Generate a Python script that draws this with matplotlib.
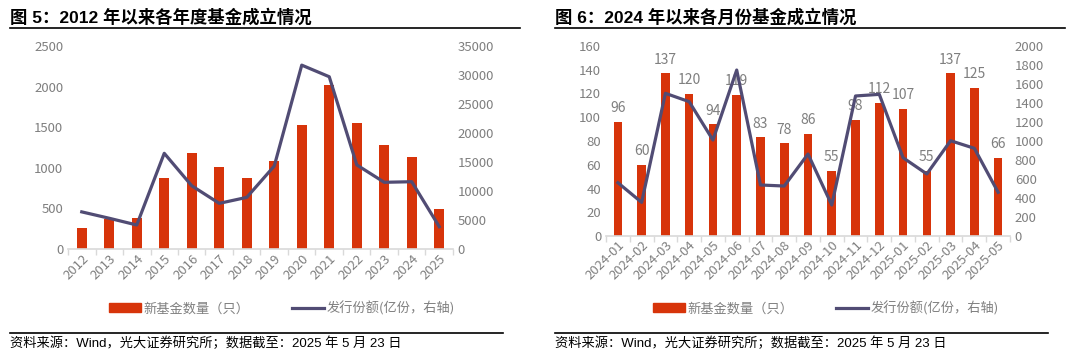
import numpy as np
import matplotlib
matplotlib.use('Agg')
import matplotlib.pyplot as plt
from matplotlib.lines import Line2D
from matplotlib.patches import Patch

plt.rcParams['font.family'] = ['Noto Sans CJK SC', 'DejaVu Sans']
HEAD_FONT = ['Liberation Sans', 'Noto Sans CJK SC']

# left panel: yearly
years = ['2012', '2013', '2014', '2015', '2016', '2017', '2018', '2019',
         '2020', '2021', '2022', '2023', '2024', '2025']
year_count = [263, 375, 386, 870, 1178, 1010, 870, 1084,
              1523, 2016, 1548, 1281, 1137, 488]
year_shares = [6400, 5300, 4140, 16500, 10900, 7870, 8900, 14300,
               31700, 29700, 14500, 11500, 11600, 3850]

# right panel: monthly
months = ['2024-01', '2024-02', '2024-03', '2024-04', '2024-05', '2024-06',
          '2024-07', '2024-08', '2024-09', '2024-10', '2024-11', '2024-12',
          '2025-01', '2025-02', '2025-03', '2025-04', '2025-05']
month_count = [96, 60, 137, 120, 94, 119, 83, 78, 86, 55, 98, 112,
               107, 55, 137, 125, 66]
month_shares = [561, 354, 1502, 1414, 1010, 1747, 537, 526, 863, 326,
                1474, 1491, 824, 653, 1003, 923, 460]

RED = '#D7340A'
LINE = '#514C74'
GREY = '#7F7F7F'
AXIS = '#D9D9D9'

fig = plt.figure(figsize=(10.8, 3.62), dpi=100)


def style_axes(ax, ax2, n):
    for a in (ax, ax2):
        for s in ('top', 'right', 'left'):
            a.spines[s].set_visible(False)
        a.tick_params(axis='y', length=0, colors=GREY, labelsize=9.5)
    ax2.spines['bottom'].set_visible(False)
    ax.spines['bottom'].set_color(AXIS)
    ax.spines['bottom'].set_linewidth(1.2)
    ax.set_xlim(-0.5, n - 0.5)
    # category ticks between bars (Excel style)
    ax.set_xticks(np.arange(-0.5, n, 1.0), minor=True)
    ax.tick_params(axis='x', which='minor', length=4, color=AXIS, width=1)
    ax.tick_params(axis='x', which='major', length=0, colors=GREY,
                   labelsize=9.5, pad=2)


def panel(rect, cats, counts, shares, ymax, ystep, y2max, y2step,
          title, title_x, line_x, labels=False, foot_x=None, foot_line=None):
    ax = fig.add_axes(rect)
    ax2 = ax.twinx()
    n = len(cats)
    x = np.arange(n)
    ax.bar(x, counts, width=0.36, color=RED, zorder=2)
    ax2.plot(x, shares, color=LINE, lw=2.3, zorder=3)
    ax.set_ylim(0, ymax)
    ax.set_yticks(np.arange(0, ymax + 1, ystep))
    ax2.set_ylim(0, y2max)
    ax2.set_yticks(np.arange(0, y2max + 1, y2step))
    style_axes(ax, ax2, n)
    ax.set_xticks(x)
    ax.set_xticklabels(cats, rotation=45, ha='right', rotation_mode='anchor')
    ax.set_zorder(ax2.get_zorder() - 1)
    ax.patch.set_visible(False)
    ax2.patch.set_visible(False)
    if labels:
        for xi, v in zip(x, counts):
            ax.text(xi, v + ymax * 0.035, str(v), ha='center', va='bottom',
                    color=GREY, fontsize=10)

    # title + rules
    fig.text(title_x, 1 - 17 / 362, title, fontsize=12.5, fontweight='bold',
             va='center', ha='left', color='black', family=HEAD_FONT)
    fig.add_artist(Line2D(line_x, [1 - 28 / 362] * 2, color='black', lw=1.2))
    fig.add_artist(Line2D(foot_line, [1 - 333 / 362] * 2, color='black', lw=1.2))
    fig.text(foot_x, 1 - 343 / 362,
             '资料来源：Wind，光大证券研究所；数据截至：2025 年 5 月 23 日',
             fontsize=9.5, va='center', ha='left', color='black',
             family=HEAD_FONT)
    return ax


ax_l = panel([68 / 1080, 1 - 249 / 362, 385 / 1080, 203 / 362],
             years, year_count, year_shares, 2500, 500, 35000, 5000,
             '图 5：2012 年以来各年度基金成立情况', 10 / 1080,
             [10 / 1080, 520 / 1080], foot_x=10 / 1080,
             foot_line=[10 / 1080, 503 / 1080])
ax_r = panel([606 / 1080, 1 - 236 / 362, 404 / 1080, 190 / 362],
             months, month_count, month_shares, 160, 20, 2000, 200,
             '图 6：2024 年以来各月份基金成立情况', 555 / 1080,
             [555 / 1080, 1065 / 1080], labels=True, foot_x=555 / 1080,
             foot_line=[555 / 1080, 1048 / 1080])

handles = [Patch(color=RED), Line2D([0], [0], color=LINE, lw=2.3)]
names = ['新基金数量（只）', '发行份额(亿份，右轴)']
for cx in (282 / 1080, 826 / 1080):
    fig.legend(handles, names, loc='center', bbox_to_anchor=(cx, 1 - 308 / 362),
               ncol=2, frameon=False, fontsize=9.5, labelcolor=GREY,
               handlelength=2.4, handleheight=0.6, handletextpad=0.2,
               columnspacing=3.2)

fig.savefig('out.png', dpi=100)
